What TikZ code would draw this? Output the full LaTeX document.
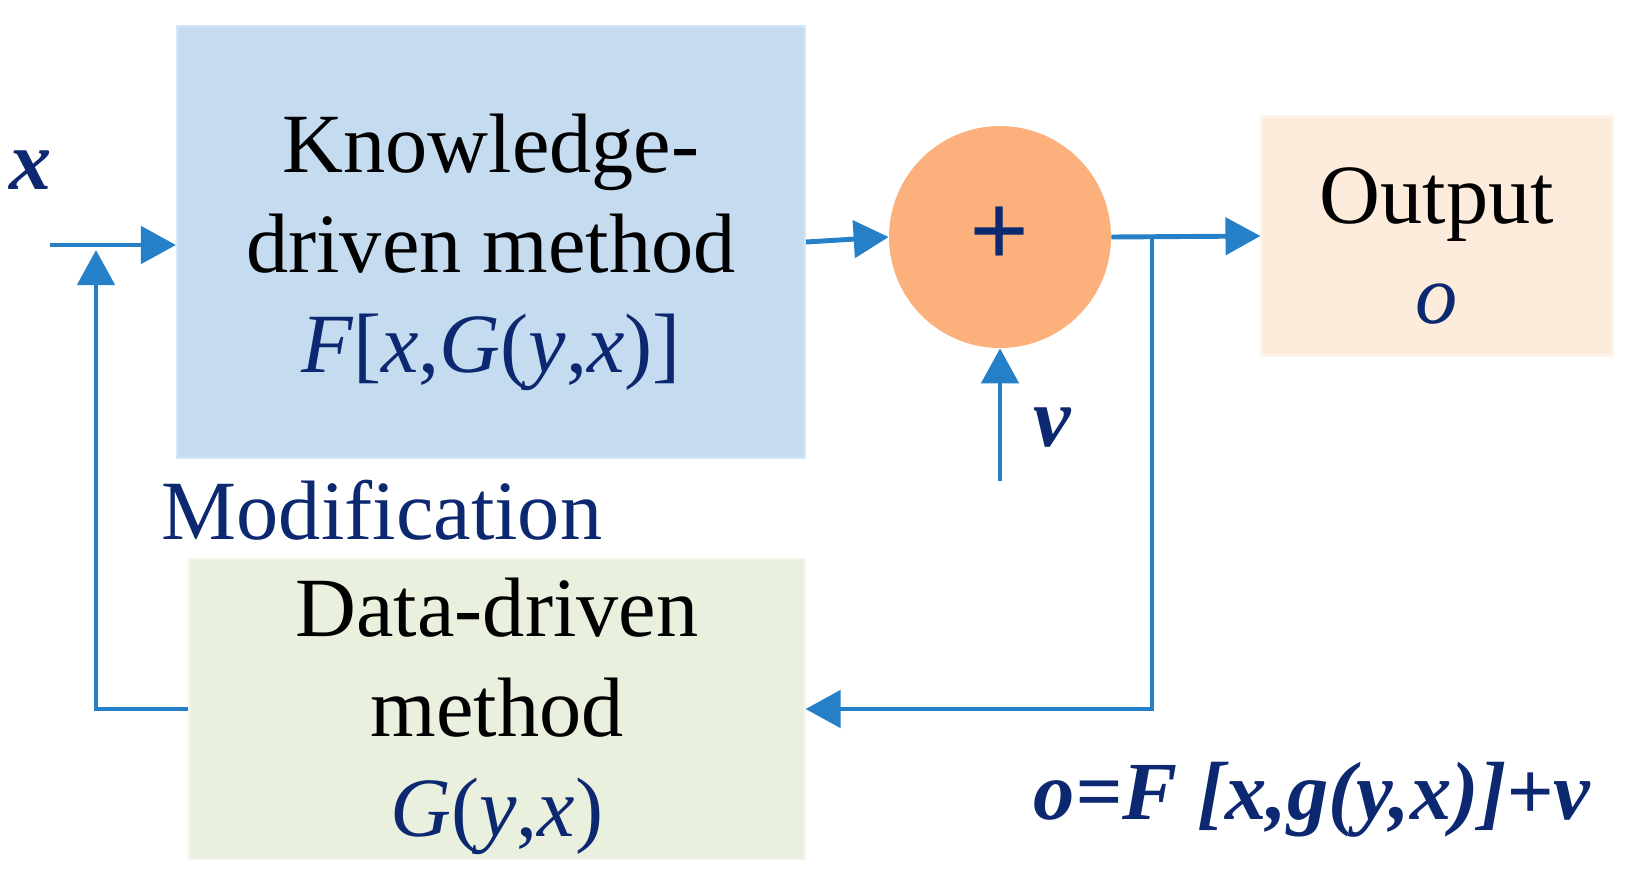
\documentclass[tikz,border=0pt]{standalone}
\usepackage{fontspec}
\setmainfont{Liberation Serif}
\usetikzlibrary{arrows.meta,positioning,calc}
\definecolor{lineblue}{RGB}{38,128,200}
\definecolor{txtblue}{RGB}{12,40,112}
\definecolor{kfill}{RGB}{197,219,240}
\definecolor{kdraw}{RGB}{214,230,246}
\definecolor{sfill}{RGB}{252,176,124}
\definecolor{ofill}{RGB}{253,235,219}
\definecolor{odraw}{RGB}{254,243,232}
\definecolor{dfill}{RGB}{234,240,222}
\definecolor{ddraw}{RGB}{242,246,234}
\tikzset{
  box/.style={rectangle, inner sep=0pt, line width=1.2pt, align=center,
    font=\fontsize{48}{57}\selectfont},
  conn/.style={draw=lineblue, line width=2.8pt},
  arr/.style={conn, -{Triangle[length=0.7cm,width=0.74cm]}},
  lbl/.style={text=txtblue, inner sep=0pt},
}
\begin{document}
\begin{tikzpicture}[x=0.02cm,y=-0.02cm]
\useasboundingbox (0,0) rectangle (1632,880);
% boxes
\node[box, fill=kfill, draw=kdraw, minimum width=628*0.02cm, minimum height=432*0.02cm]
  (K) at (491,242) {};
\node[align=center, font=\fontsize{48}{57}\selectfont, inner sep=0pt] (Kt) at (491,252)
  {Knowledge-\\driven method\\{\color{txtblue}\textit{F}[\textit{x},\textit{G}(\textit{y},\textit{x})]}};
\node[circle, fill=sfill, minimum size=222*0.02cm, inner sep=0pt,
  font=\fontsize{60}{60}\selectfont\bfseries, text=txtblue] (S) at (1000,237) {+};
\node[box, fill=ofill, draw=odraw, minimum width=351*0.02cm, minimum height=239*0.02cm]
  (O) at (1437,236) {};
\node[align=center, font=\fontsize{48}{57}\selectfont, inner sep=0pt] (Ot) at (1437,246)
  {Output\\{\color{txtblue}\textit{o}}};
\node[box, fill=dfill, draw=ddraw, minimum width=615*0.02cm, minimum height=300*0.02cm]
  (D) at (497,709) {};
\node[align=center, font=\fontsize{48}{57}\selectfont, inner sep=0pt] (Dt) at (497,716)
  {Data-driven\\method\\{\color{txtblue}\textit{G}(\textit{y},\textit{x})}};
% labels
\node[lbl, font=\fontsize{48}{57}\selectfont\bfseries\itshape] (xl) at (31,170) {x};
\node[lbl, font=\fontsize{48}{57}\selectfont\bfseries\itshape] (vl) at (1052,428) {v};
\node[lbl, font=\fontsize{48}{57}\selectfont] (ml) at (382,510) {Modification};
\node[lbl, font=\fontsize{47}{52}\selectfont\bfseries\itshape] (fl) at (1312,800) {o=F [x,g(y,x)]+v};
% coordinates
\coordinate (xin) at (50,245);
\coordinate (fbtop) at (96,250);
\coordinate (vin) at (1000,481);
\coordinate (br) at (1152,237);
% connectors
\draw[arr] (xin) -- (xin -| K.west);
\draw[arr] (D.west) -| (fbtop);
\draw[arr] (K.east) -- (S.west);
\draw[arr] (vin) -- (S.south);
\draw[arr] (S.east) -- (O.west);
\draw[arr] (br) |- (D.east);
\end{tikzpicture}
\end{document}
